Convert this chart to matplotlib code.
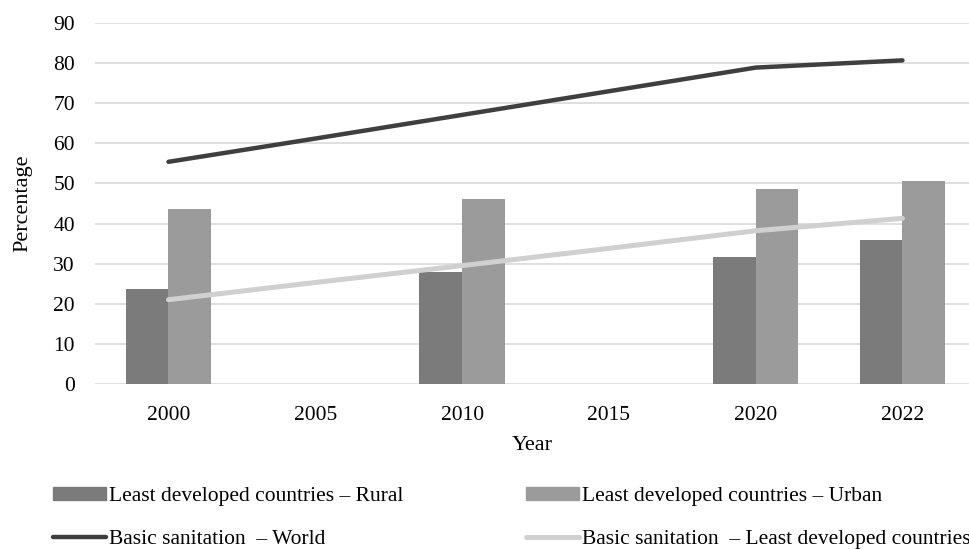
#
# Sanitation coverage: least developed countries vs world
#
import numpy as np
import matplotlib.pyplot as plt
import matplotlib
from matplotlib.lines import Line2D
from matplotlib.patches import Patch

years = ['2000', '2005', '2010', '2015', '2020', '2022']

# Bars only exist for some years (None = no bar)
ldc_rural = [23.6, None, 27.8, None, 31.7, 35.9]
ldc_urban = [43.6, None, 46.1, None, 48.5, 50.6]

# Basic sanitation lines
world = [55.4, 61.2, 67.1, 73.0, 78.9, 80.7]
ldc = [21.0, 25.3, 29.5, 33.8, 38.2, 41.3]

matplotlib.rc('font', family='Liberation Serif', size=15.5)

fig = plt.figure(figsize=(9.7, 5.5), dpi=100)
ax = fig.add_axes([0.098, 0.302, 0.902, 0.656])

x = np.arange(len(years))
w = 0.29

bx = [i for i, v in zip(x, ldc_rural) if v is not None]
rural = [v for v in ldc_rural if v is not None]
urban = [v for v in ldc_urban if v is not None]

ax.bar(np.array(bx) - w / 2, rural, w, color='#7b7b7b', zorder=2)
ax.bar(np.array(bx) + w / 2, urban, w, color='#9b9b9b', zorder=2)

ax.plot(x, world, color='#3f3f3f', lw=3.2, solid_capstyle='round', zorder=3)
ax.plot(x, ldc, color='#d0d0d0', lw=3.6, solid_capstyle='round', zorder=3)

ax.set_xlim(-0.5, 5.46)
ax.set_ylim(0, 90)
ax.set_yticks(range(0, 91, 10))
ax.set_xticks(x)
ax.set_xticklabels(years)
ax.yaxis.grid(True, color='#d9d9d9', lw=1.2, zorder=0)
ax.set_axisbelow(True)
for s in ax.spines.values():
    s.set_visible(False)
ax.tick_params(axis='x', length=0, pad=16)
ax.tick_params(axis='y', length=0, pad=14.5)

ax.set_ylabel('Percentage', fontsize=16, labelpad=15)
ax.set_xlabel('Year', fontsize=16, labelpad=8)

handles = [
    Patch(color='#7b7b7b'),
    Line2D([], [], color='#3f3f3f', lw=3.2, solid_capstyle='round'),
    Patch(color='#9b9b9b'),
    Line2D([], [], color='#d0d0d0', lw=3.6, solid_capstyle='round'),
]
labels = [
    'Least developed countries \u2013 Rural',
    'Basic sanitation  \u2013 World',
    'Least developed countries \u2013 Urban',
    'Basic sanitation  \u2013 Least developed countries',
]
fig.legend(handles, labels, ncol=2, frameon=False, loc='lower left',
           bbox_to_anchor=(0.035, -0.033), handlelength=2.45, handleheight=0.6,
           handletextpad=0.15, columnspacing=5.7, labelspacing=1.08,
           fontsize=15.5)

plt.savefig('out.png', dpi=100)
plt.close()
